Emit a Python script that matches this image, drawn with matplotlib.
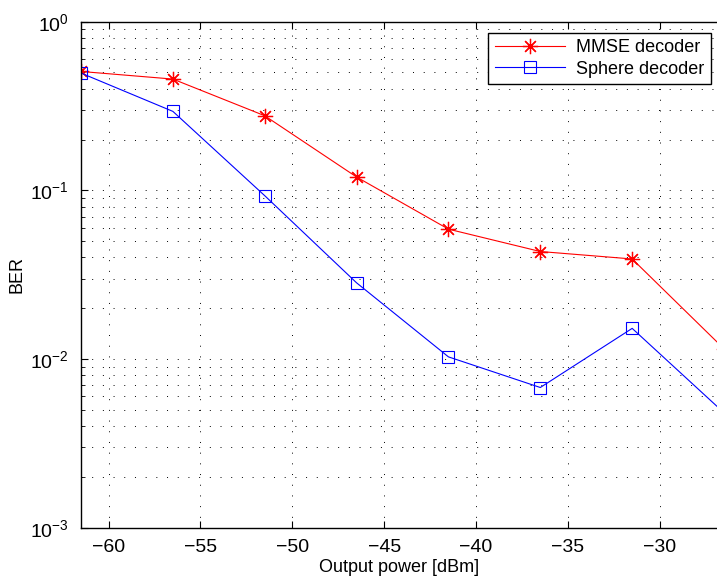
import matplotlib.pyplot as plt
import matplotlib.ticker as mticker
import numpy as np

# datos
potencia = [-61.5, -56.5, -51.5, -46.5, -41.5, -36.5, -31.5, -26.5]
ber_mmse = [0.507, 0.457, 0.277, 0.120, 0.0589, 0.0434, 0.0392, 0.0115]
ber_esfera = [0.496, 0.294, 0.093, 0.0283, 0.0103, 0.00678, 0.0152, 0.0048]

xticks = [-60, -55, -50, -45, -40, -35, -30]

plt.rcParams['font.family'] = ['Liberation Sans', 'DejaVu Sans']
plt.rcParams['mathtext.default'] = 'regular'
plt.rcParams['axes.unicode_minus'] = True

fig = plt.figure(figsize=(7.17, 5.79), dpi=100)
# el eje se sale un poco por la derecha, como en la original (recortada)
ax = fig.add_axes([0.113, 0.0886, 0.8968, 0.8739])

ax.semilogy(potencia, ber_mmse, color='red', linestyle='-', linewidth=0.8,
            marker=(8, 2, 0), markersize=11, markeredgewidth=0.9, label='MMSE decoder')
ax.semilogy(potencia, ber_esfera, color='blue', linestyle='-', linewidth=0.8,
            marker='s', markersize=8, markerfacecolor='none', markeredgewidth=0.8,
            label='Sphere decoder')

ax.set_xlim(-61.5, -26.5)
ax.set_ylim(1e-3, 1e0)
ax.set_xticks(xticks)
ax.yaxis.set_major_locator(mticker.LogLocator(base=10, numticks=10))
ax.yaxis.set_minor_locator(mticker.LogLocator(base=10, subs=np.arange(2, 10), numticks=20))
ax.yaxis.set_minor_formatter(mticker.NullFormatter())

# rejilla punteada estilo matlab
ax.grid(True, which='major', axis='x', linestyle=(0, (1, 10)), color='black', linewidth=0.7)
ax.grid(True, which='both', axis='y', linestyle=(0, (1, 10)), color='black', linewidth=0.7)

ax.tick_params(which='both', direction='in', top=True, right=True, labelsize=14)
ax.tick_params(which='major', length=5)
ax.tick_params(which='minor', length=3)
ax.tick_params(axis='x', which='major', pad=8)
ax.tick_params(axis='y', which='major', pad=9)
for s in ax.spines.values():
    s.set_linewidth(1.0)

ax.set_xlabel('Output power [dBm]', fontsize=13)
ax.set_ylabel('BER', fontsize=13)
ax.xaxis.set_label_coords(0.5 * 636 / 643, -0.061)
ax.yaxis.set_label_coords(-0.087, 0.5)

leg = ax.legend(loc='upper right', bbox_to_anchor=(0.979, 0.978), fontsize=13,
                numpoints=1, handlelength=3.9, fancybox=False, framealpha=1,
                edgecolor='black', borderpad=0.35, labelspacing=0.25, handletextpad=0.6,
                borderaxespad=0)
leg.get_frame().set_linewidth(1.0)

plt.savefig('out.png', dpi=100)
